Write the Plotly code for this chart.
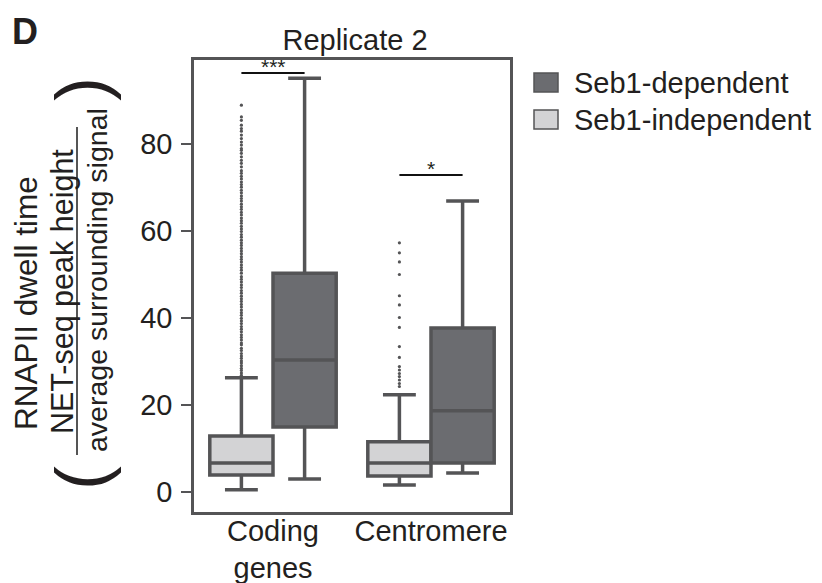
import plotly.graph_objects as go

# ---------------- data ----------------
categories = ["Coding<br>genes", "Centromere"]
series_names = ["Seb1-independent", "Seb1-dependent"]

indep_lower = [0.4, 1.5]
indep_q1 = [3.8, 3.6]
indep_median = [6.6, 6.6]
indep_q3 = [12.8, 11.5]
indep_upper = [26.2, 22.3]

dep_lower = [2.9, 4.3]
dep_q1 = [14.9, 6.6]
dep_median = [30.3, 18.6]
dep_q3 = [50.3, 37.7]
dep_upper = [95.2, 66.9]

indep_outliers_coding = [
    26.8, 27.3, 27.9, 28.4, 29.0, 29.6, 30.1, 30.7, 31.2, 31.8, 32.5, 33.0, 33.8,
    34.2, 34.9, 35.5, 36.1, 36.8, 37.4, 38.0, 38.7, 39.3, 39.9, 40.6, 41.2, 41.8,
    42.5, 43.1, 43.8, 44.4, 45.0, 45.7, 46.3, 47.0, 47.6, 48.3, 48.9, 49.5, 50.3,
    51.0, 51.6, 52.2, 52.9, 53.5, 54.1, 54.8, 55.4, 56.0, 56.7, 57.3, 57.9, 58.6,
    59.2, 59.9, 60.5, 61.1, 61.8, 62.4, 63.0, 63.7, 64.3, 65.0, 65.6, 66.2, 66.9,
    67.5, 68.1, 68.8, 69.4, 70.1, 70.7, 71.3, 72.0, 72.6, 73.3, 73.9, 74.8, 75.6,
    76.3, 77.1, 77.9, 78.6, 79.0, 79.8, 80.5, 81.3, 82.1, 83.0, 83.6, 84.4, 85.5,
    86.3, 89.0,
]
indep_outliers_centromere = [
    24.2, 24.9, 25.7, 26.5, 27.2, 28.0, 28.8, 30.9, 33.4, 37.8, 40.1, 43.0, 45.1,
    50.0, 52.9, 55.0, 57.3,
]

sig_y = [96.4, 72.9]
sig_labels = ["***", "*"]

y_ticks = [0, 20, 40, 60, 80]

# ---------------- style ----------------
BODY = 8                      # default page margin around the figure
W, H = 822 - BODY, 583 - BODY
PLOT_L, PLOT_R, PLOT_T, PLOT_B = 194, 510, 60, 512   # target plot frame in the page
ML, MT = PLOT_L - BODY, PLOT_T - BODY
PW, PH = PLOT_R - PLOT_L, PLOT_B - PLOT_T
MR, MB = W - ML - PW, H - MT - PH
FONT = "Liberation Sans, Arial, sans-serif"
TXT = "#231f20"
EDGE = "#545456"
DARK = "#6b6c70"
LIGHT = "#d3d3d5"
BOX_W = 0.4
OFF = 0.2


def px(xp):
    return (xp - PLOT_L) / PW


def py(yp):
    return (PLOT_B - yp) / PH


fig = go.Figure()

groups = [
    (series_names[0], indep_lower, indep_q1, indep_median, indep_q3, indep_upper, LIGHT, -OFF),
    (series_names[1], dep_lower, dep_q1, dep_median, dep_q3, dep_upper, DARK, OFF),
]
for name, lo, q1, med, q3, up, fill, off in groups:
    fig.add_trace(go.Box(
        name=name,
        x=[i + off for i in range(len(categories))],
        lowerfence=lo, q1=q1, median=med, q3=q3, upperfence=up,
        orientation="v",
        width=BOX_W,
        whiskerwidth=0.52,
        fillcolor=fill,
        line=dict(color=EDGE, width=3.5),
        boxpoints=False,
        showlegend=False,
        hoverinfo="skip",
    ))

for i, outs in enumerate([indep_outliers_coding, indep_outliers_centromere]):
    fig.add_trace(go.Scatter(
        x=[i - OFF] * len(outs), y=outs, mode="markers",
        marker=dict(size=3.2, color=EDGE, line=dict(width=0)),
        showlegend=False, hoverinfo="skip",
    ))

# significance bars
for i, (yv, lab) in enumerate(zip(sig_y, sig_labels)):
    fig.add_trace(go.Scatter(
        x=[i - OFF, i + OFF], y=[yv, yv], mode="lines",
        line=dict(color="#111111", width=2), showlegend=False, hoverinfo="skip",
    ))
    fig.add_annotation(x=i, y=yv, text=lab, showarrow=False, yanchor="bottom",
                       yshift=-7, font=dict(size=21, color=TXT, family=FONT))

annotations = []
# panel letter
annotations.append(dict(x=px(25), y=py(31.5), text="<b>D</b>", font=dict(size=36)))
# y label pieces
annotations.append(dict(x=px(26), y=py(303), text="RNAPII dwell time", textangle=-90,
                        font=dict(size=31.5)))
annotations.append(dict(x=px(62), y=py(292), text="NET-seq peak height", textangle=-90,
                        font=dict(size=30.5)))
annotations.append(dict(x=px(97), y=py(280), text="average surrounding signal", textangle=-90,
                        font=dict(size=28.5)))
annotations.append(dict(x=px(81), y=py(478), text="(", textangle=-90, font=dict(size=72)))
annotations.append(dict(x=px(81), y=py(89), text=")", textangle=-90, font=dict(size=72)))
# legend text
annotations.append(dict(x=px(573), y=py(83), text=series_names[1], xanchor="left"))
annotations.append(dict(x=px(573), y=py(120), text=series_names[0], xanchor="left"))

for a in annotations:
    f = dict(size=29, color=TXT, family=FONT)
    f.update(a.pop("font", {}))
    a.setdefault("xanchor", "center")
    fig.add_annotation(xref="paper", yref="paper", showarrow=False, yanchor="middle",
                       borderpad=0, font=f, **a)

shapes = [
    # fraction bar
    dict(type="line", x0=px(77), x1=px(77), y0=py(127), y1=py(455),
         line=dict(color="#555555", width=2)),
    # legend swatches
    dict(type="rect", x0=px(534), x1=px(558), y0=py(73), y1=py(92),
         fillcolor=DARK, line=dict(color=EDGE, width=1.5)),
    dict(type="rect", x0=px(534), x1=px(558), y0=py(110), y1=py(129),
         fillcolor=LIGHT, line=dict(color=EDGE, width=1.5)),
]
for s in shapes:
    fig.add_shape(xref="paper", yref="paper", **s)

fig.update_layout(
    width=W, height=H,
    margin=dict(l=ML, r=MR, t=MT, b=MB, pad=0, autoexpand=False),
    paper_bgcolor="white", plot_bgcolor="white",
    font=dict(family=FONT, size=29, color=TXT),
    title=dict(text="Replicate 2", x=px(355), xanchor="center", xref="paper",
               y=1 - (40 - BODY) / H, yref="container", yanchor="middle",
               automargin=False,
               font=dict(size=29, color=TXT, family=FONT)),
    showlegend=False,
)
fig.update_xaxes(
    range=[-0.5, 1.5], tickvals=list(range(len(categories))), ticktext=categories,
    showline=True, mirror=True, linecolor=EDGE, linewidth=2.5, ticks="",
    showgrid=False, zeroline=False, tickfont=dict(size=29, color=TXT),
    automargin=False, ticklabelstandoff=-9,
)
fig.update_yaxes(
    range=[-4.7, 99.4], tickvals=y_ticks, ticks="outside", ticklen=10, tickwidth=2,
    tickcolor=EDGE, showline=True, mirror=True, linecolor=EDGE, linewidth=2.5,
    showgrid=False, zeroline=False, tickfont=dict(size=29, color=TXT),
    automargin=False, ticklabelstandoff=3,
)

fig.write_html("out.html")
